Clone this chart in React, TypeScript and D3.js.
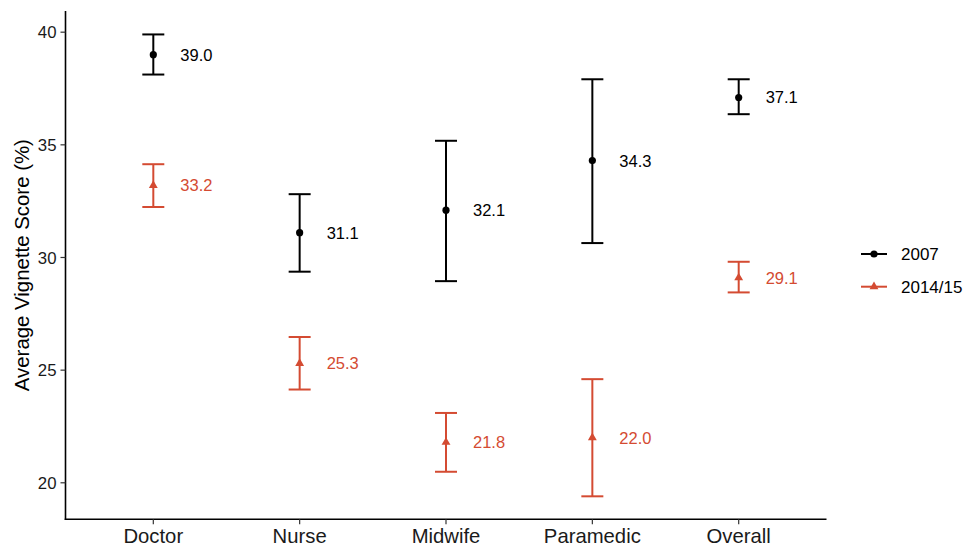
import React from "react";
import * as d3 from "d3";

const categories = ["Doctor", "Nurse", "Midwife", "Paramedic", "Overall"];
const mean2007 = [39.0, 31.1, 32.1, 34.3, 37.1];
const lo2007 = [38.12, 29.37, 28.95, 30.64, 36.36];
const hi2007 = [39.9, 32.81, 35.18, 37.91, 37.91];
const mean2014 = [33.2, 25.3, 21.8, 22.0, 29.1];
const lo2014 = [32.24, 24.14, 20.49, 19.4, 28.45];
const hi2014 = [34.14, 26.47, 23.1, 24.6, 29.81];
const yTicks = [20, 25, 30, 35, 40];
const legendLabels = ["2007", "2014/15"];

const BLACK = "#000000";
const RED = "#d44b32";
const FONT = "'Liberation Sans', Arial, Helvetica, sans-serif";

const W = 969;
const H = 545;
const plot = { left: 65.5, right: 826.5, top: 11, bottom: 519.3 };

const App = () => {
  const xScale = d3
    .scalePoint<string>()
    .domain(categories)
    .range([plot.left, plot.right])
    .padding(0.6);

  const yScale = d3
    .scaleLinear()
    .domain([18.38, 40.94])
    .range([plot.bottom, plot.top]);

  const triangle = d3.symbol().type(d3.symbolTriangle).size(34)();
  const capHalf = 11;

  const series = [
    { mean: mean2007, lo: lo2007, hi: hi2007, color: BLACK, shape: "circle" },
    { mean: mean2014, lo: lo2014, hi: hi2014, color: RED, shape: "triangle" },
  ];

  return (
    <svg
      width={W}
      height={H}
      style={{ position: "absolute", left: 0, top: 0, background: "#fff" }}
      fontFamily={FONT}
    >
      {/* error bars, points, value labels */}
      {series.map((s, si) => (
        <g key={si}>
          {categories.map((c, i) => {
            const x = xScale(c) as number;
            const y = yScale(s.mean[i]);
            return (
              <g key={c}>
                <line x1={x} x2={x} y1={yScale(s.lo[i])} y2={yScale(s.hi[i])} stroke={s.color} strokeWidth={2} />
                <line x1={x - capHalf} x2={x + capHalf} y1={yScale(s.lo[i])} y2={yScale(s.lo[i])} stroke={s.color} strokeWidth={2} />
                <line x1={x - capHalf} x2={x + capHalf} y1={yScale(s.hi[i])} y2={yScale(s.hi[i])} stroke={s.color} strokeWidth={2} />
                {s.shape === "circle" ? (
                  <circle cx={x} cy={y} r={3.6} fill={s.color} />
                ) : (
                  <path d={triangle as string} transform={`translate(${x},${y})`} fill={s.color} />
                )}
                <text
                  x={x + 27}
                  y={y}
                  dy="0.36em"
                  fontSize={16.5}
                  fill={s.color}
                >
                  {s.mean[i].toFixed(1)}
                </text>
              </g>
            );
          })}
        </g>
      ))}

      {/* y axis */}
      <line x1={plot.left} x2={plot.left} y1={plot.top} y2={plot.bottom + 0.8} stroke="#000" strokeWidth={1.6} />
      {yTicks.map((t) => (
        <g key={t}>
          <line x1={plot.left - 5} x2={plot.left} y1={yScale(t)} y2={yScale(t)} stroke="#333" strokeWidth={1.2} />
          <text x={plot.left - 9} y={yScale(t)} dy="0.36em" textAnchor="end" fontSize={16.8} fill="#1a1a1a">
            {t}
          </text>
        </g>
      ))}
      <text
        transform={`translate(${22},${(plot.top + plot.bottom) / 2}) rotate(-90)`}
        textAnchor="middle"
        dy="0.36em"
        fontSize={20.4}
        fill="#000"
      >
        Average Vignette Score (%)
      </text>

      {/* x axis */}
      <line x1={plot.left - 0.8} x2={plot.right} y1={plot.bottom} y2={plot.bottom} stroke="#000" strokeWidth={1.6} />
      {categories.map((c) => (
        <g key={c}>
          <line x1={xScale(c)} x2={xScale(c)} y1={plot.bottom} y2={plot.bottom + 5} stroke="#333" strokeWidth={1.2} />
          <text x={xScale(c)} y={plot.bottom + 24} textAnchor="middle" fontSize={20.3} fill="#1a1a1a">
            {c}
          </text>
        </g>
      ))}

      {/* legend */}
      {legendLabels.map((label, i) => {
        const ly = 254 + i * 32.7;
        const col = i === 0 ? BLACK : RED;
        return (
          <g key={label}>
            <line x1={861} x2={887} y1={ly} y2={ly} stroke={col} strokeWidth={2} />
            {i === 0 ? (
              <circle cx={874} cy={ly} r={3.6} fill={col} />
            ) : (
              <path d={triangle as string} transform={`translate(${874},${ly})`} fill={col} />
            )}
            <text x={901} y={ly} dy="0.36em" fontSize={17} fill="#000">
              {label}
            </text>
          </g>
        );
      })}
    </svg>
  );
};

export default App;
